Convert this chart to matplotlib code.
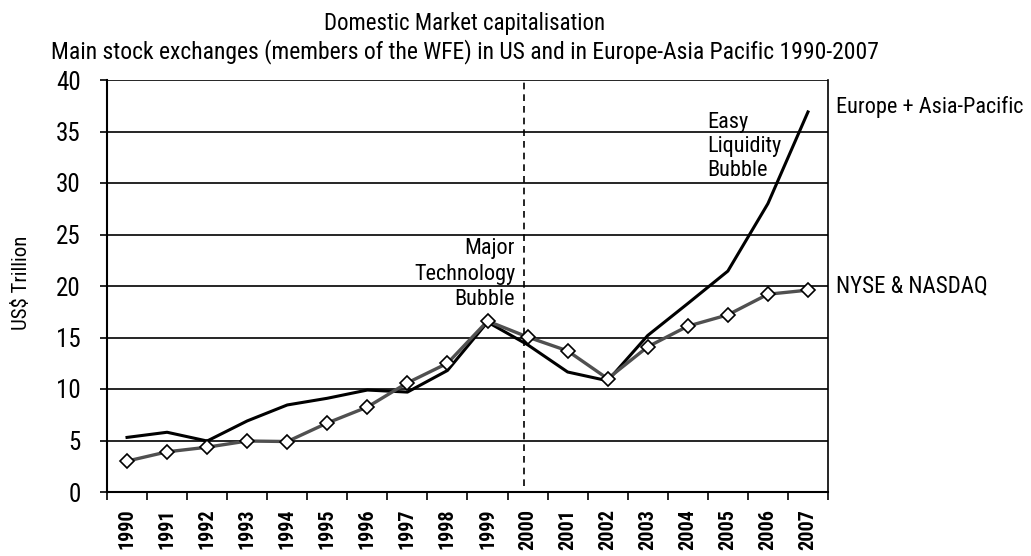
import matplotlib
matplotlib.use("Agg")
import matplotlib.pyplot as plt
import numpy as np

years = [str(y) for y in range(1990, 2008)]
europe_asia = [5.3, 5.8, 4.95, 6.9, 8.45, 9.1, 9.9, 9.7, 11.8, 16.5, 14.3, 11.65, 10.8, 15.2, 18.3, 21.45, 28.0, 36.9]
nyse_nasdaq = [3.0, 3.9, 4.35, 4.95, 4.9, 6.7, 8.25, 10.6, 12.5, 16.6, 15.05, 13.7, 11.0, 14.1, 16.1, 17.2, 19.2, 19.6]
yticks = [0, 5, 10, 15, 20, 25, 30, 35, 40]

plt.rcParams['font.family'] = ['Roboto Condensed', 'DejaVu Sans']

W, H = 1031, 556
fig = plt.figure(figsize=(W / 100, H / 100), dpi=100)
ax = fig.add_axes([107/W, 1 - 492/H, (828-107)/W, (492-80)/H])

x = np.arange(len(years))
ax.plot(x, europe_asia, color='black', lw=2.2, zorder=3)
ax.plot(x, nyse_nasdaq, color='#505050', lw=2.4, marker='D', markersize=7,
        markerfacecolor='white', markeredgecolor='black', markeredgewidth=1.2, zorder=4)

ax.set_xlim(-0.5, len(years) - 0.5)
ax.set_ylim(0, 40)
ax.set_yticks(yticks)
ax.set_yticklabels([str(v) for v in yticks], fontsize=18)
for v in yticks[1:]:
    ax.axhline(v, color='black', lw=1.2, zorder=1)

ax.set_xticks(np.arange(len(years) + 1) - 0.5)
ax.set_xticklabels([])
ax.set_xticks(x, minor=True)
ax.set_xticklabels(years, minor=True, rotation=90, fontsize=14.5, fontweight='bold')
ax.tick_params(axis='x', which='minor', length=0, pad=12)
ax.tick_params(axis='x', which='major', length=6, width=1.2, direction='out')
ax.tick_params(axis='y', length=5, width=1.2, direction='out', pad=14)

for s in ['left', 'bottom']:
    ax.spines[s].set_linewidth(1.5)
ax.spines['top'].set_visible(False)
ax.spines['right'].set_linewidth(1.2)

ax.axvline(9.9, ymin=0.015, ymax=1, color='black', lw=1.2, ls=(0, (4, 3)), zorder=2)

fig.text(22/W, 1 - 283/H, 'US$ Trillion', rotation=90, ha='center', va='center', fontsize=15)

for line, yb in zip(['Major', 'Technology', 'Bubble'], [23.1, 20.6, 18.15]):
    ax.text(9.69, yb, line, ha='right', va='baseline', fontsize=16)
for line, yb in zip(['Easy', 'Liquidity', 'Bubble'], [35.34, 33.0, 30.68]):
    ax.text(14.48, yb, line, ha='left', va='baseline', fontsize=16)
ax.text(17.7, 36.8, 'Europe + Asia-Pacific', ha='left', va='baseline', fontsize=16)
ax.text(17.7, 19.4, 'NYSE & NASDAQ', ha='left', va='baseline', fontsize=16.5)

fig.text(465/W, 1 - 30/H, 'Domestic Market capitalisation', ha='center', va='baseline', fontsize=16.5)
fig.text(465/W, 1 - 58/H, 'Main stock exchanges (members of the WFE) in US and in Europe-Asia Pacific 1990-2007',
         ha='center', va='baseline', fontsize=17)

fig.savefig('out.png', dpi=100)
